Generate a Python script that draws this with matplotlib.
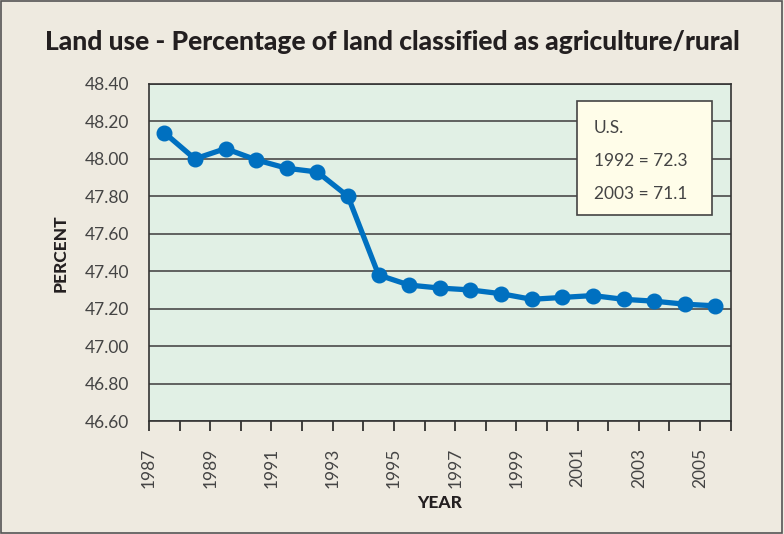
import matplotlib
matplotlib.use("Agg")
import matplotlib.pyplot as plt
from matplotlib.patches import Rectangle
from matplotlib.ticker import FixedLocator, FuncFormatter

years = list(range(1987, 2006))
percent = [48.14, 48.00, 48.055, 47.995, 47.95, 47.93, 47.80, 47.38, 47.326, 47.31,
           47.30, 47.28, 47.25, 47.26, 47.27, 47.25, 47.24, 47.224, 47.215]
yticks = [46.60, 46.80, 47.00, 47.20, 47.40, 47.60, 47.80, 48.00, 48.20, 48.40]
xlabels = [str(y) if (y - 1987) % 2 == 0 else "" for y in years]
note_lines = ["U.S.", "1992 = 72.3", "2003 = 71.1"]

plt.rcParams['font.family'] = ['Lato', 'DejaVu Sans']

bg = "#EEEAE0"
fig = plt.figure(figsize=(7.84, 5.34), dpi=100, facecolor=bg)
fig.patches.append(Rectangle((0.001, 0.001), 0.997, 0.997, transform=fig.transFigure,
                             fill=False, edgecolor="#555555", linewidth=1.2))
ax = fig.add_axes([0.190, 0.2116, 0.742, 0.6311])
ax.set_facecolor("#E1F0E5")

xs = [i + 0.5 for i in range(len(years))]
ax.plot(xs, percent, color="#0070C0", linewidth=3.8, marker="o", markersize=10.5,
        solid_capstyle="round", zorder=3)

ax.set_xlim(0, len(years))
ax.set_ylim(46.60, 48.40)
ax.set_yticks(yticks)
ax.yaxis.set_major_formatter(FuncFormatter(lambda v, p: f"{v:.2f}"))
ax.grid(axis="y", color="#4a4a4a", linewidth=1.2)
ax.set_axisbelow(True)

ax.xaxis.set_major_locator(FixedLocator(list(range(len(years) + 1))))
ax.set_xticklabels(xlabels + [""], rotation=90, color="#444444", fontsize=12.5)
ax.tick_params(axis="x", length=7, width=1.2, color="#222222", pad=12)
ax.tick_params(axis="y", length=0, pad=14, labelsize=12.5, labelcolor="#444444")
for s in ax.spines.values():
    s.set_color("#333333")
    s.set_linewidth(1.2)

fig.text(0.5, 0.921, "Land use - Percentage of land classified as agriculture/rural",
         ha="center", va="center", fontsize=19, fontweight="black", color="#231f20")
fig.text(0.077, 0.525, "PERCENT", rotation=90, ha="center", va="center",
         fontsize=12.5, fontweight="black", color="#231f20")
fig.text(0.561, 0.058, "YEAR", ha="center", va="center",
         fontsize=12.5, fontweight="black", color="#231f20")

box = Rectangle((577 / 784, 1 - 215 / 534), 135 / 784, 114 / 534, transform=fig.transFigure,
                facecolor="#FFFDE9", edgecolor="#444444", linewidth=1.2, zorder=5)
fig.patches.append(box)
for i, t in enumerate(note_lines):
    fig.text(594 / 784, 1 - (128 + i * 33) / 534, t, ha="left", va="center",
             fontsize=12.5, color="#444444", zorder=6)

fig.savefig("out.png", dpi=100, facecolor=bg)
